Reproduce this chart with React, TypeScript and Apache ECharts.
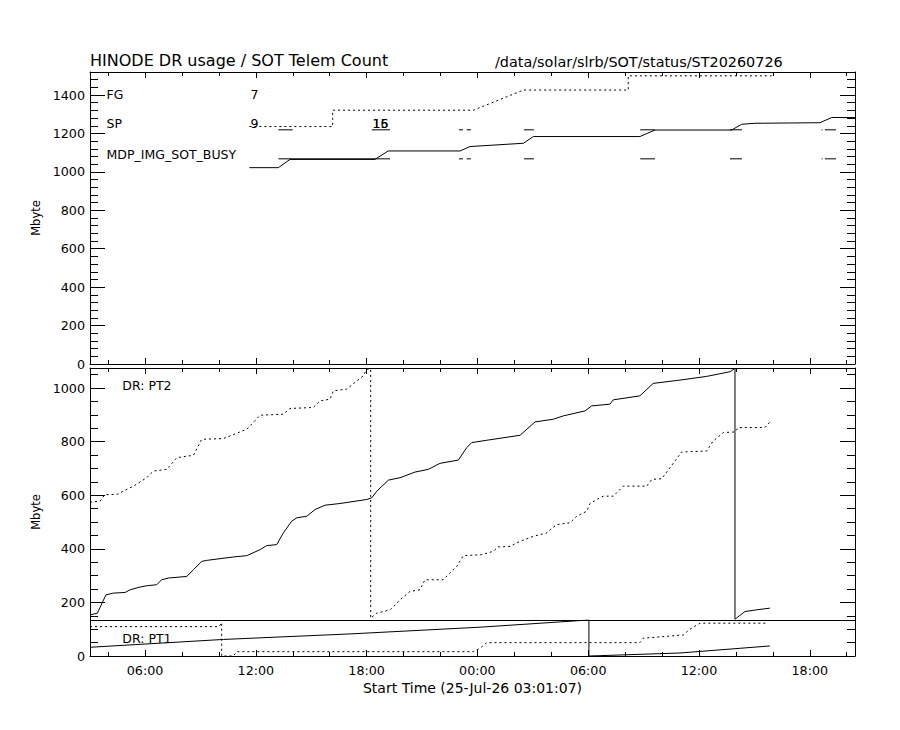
import React, { useEffect, useRef } from 'react';
import * as echarts from 'echarts';

// ---- X axis (hours since 25-Jul-26 00:00) ----
const X_MIN = 3.0186; // 03:01:07
const X_MAX = 44.45;
const X_MAJOR_TICKS = [6, 12, 18, 24, 30, 36, 42];
const X_TICK_LABELS = ['06:00', '12:00', '18:00', '00:00', '06:00', '12:00', '18:00'];
const X_MINOR_TICKS = [4, 8, 10, 14, 16, 20, 22, 26, 28, 32, 34, 38, 40, 44];

// ---- Y axes ----
const TOP_Y_MAX = 1520;
const TOP_Y_TICKS = [0, 200, 400, 600, 800, 1000, 1200, 1400];
const TOP_Y_MINOR_STEP = 40;
const BOT_Y_MAX = 1075;
const BOT_Y_TICKS = [0, 200, 400, 600, 800, 1000];
const BOT_Y_MINOR_STEP = 50;
const Y_MAJOR_STEP = 200;

// ---- Top panel: SOT telemetry count ----
const TOP_SOLID = [
  [11.65, 1022], [13.22, 1022], [13.85, 1065], [18.45, 1065], [19.17, 1109], [23.06, 1109],
  [23.6, 1132], [26.49, 1149], [27.03, 1184], [32.8, 1184], [33.62, 1218], [37.77, 1218],
  [38.31, 1248], [39.03, 1253], [42.55, 1256], [43.19, 1283], [44.45, 1283],
];
const TOP_DOTTED = [
  [11.65, 1236], [16.16, 1236], [16.16, 1321], [23.78, 1321], [26.49, 1426], [32.17, 1426],
  [32.17, 1500], [39.94, 1500],
];
const SP_MARK_LEVEL = 1219;
const SP_MARKS = [
  [13.22, 14.0], [18.28, 19.27], [23.0, 23.22], [23.42, 23.65], [26.52, 27.06],
  [32.82, 33.62], [37.68, 38.33], [42.64, 42.69], [42.82, 43.42],
];
const BUSY_MARK_LEVEL = 1068;
const BUSY_MARKS = [
  [13.22, 19.27], [23.0, 23.22], [23.42, 23.65], [26.52, 27.06],
  [32.82, 33.62], [37.68, 38.33], [42.64, 42.69], [42.82, 43.42],
];
const TOP_TEXTS = [
  { name: 'FG', value: [3.89, 1402] },
  { name: 'SP', value: [3.89, 1251] },
  { name: 'MDP_IMG_SOT_BUSY', value: [3.89, 1089] },
  { name: '7', value: [11.69, 1403] },
  { name: '9', value: [11.69, 1253] },
  { name: '16', value: [18.29, 1253] },
  { name: '15', value: [18.29, 1253] },
];

// ---- Bottom panel: DR usage ----
const PT2_SOLID = [
  [3.02, 153.5], [3.42, 159.9], [3.71, 203.4], [3.89, 228.4], [4.28, 234.8], [4.92, 237.1],
  [5.19, 247.2], [5.73, 257.3], [6.09, 262.2], [6.63, 265.9], [6.9, 284.6], [7.26, 291.0],
  [8.26, 297.0], [8.62, 322.1], [9.07, 353.2], [9.34, 356.9], [10.78, 369.6], [11.51, 374.5],
  [12.23, 397.0], [12.59, 412.0], [13.13, 415.7], [13.49, 459.5], [13.94, 503.0], [14.22, 515.7],
  [14.76, 521.7], [15.21, 546.8], [15.75, 562.9], [16.56, 569.2], [18.01, 584.2], [18.28, 590.6],
  [18.55, 615.3], [19.18, 656.5], [19.81, 665.5], [20.62, 686.5], [21.34, 696.6], [21.97, 719.0],
  [22.97, 731.4], [23.42, 777.8], [23.69, 796.6], [24.5, 805.2], [26.31, 823.9], [27.12, 873.7],
  [28.11, 883.8], [28.65, 896.2], [29.83, 914.9], [30.19, 933.6], [31.18, 940.0], [31.36, 956.1],
  [32.8, 971.1], [33.52, 1017.5], [34.97, 1029.9], [36.42, 1043.7], [37.68, 1061.0], [37.95, 1074.0],
  [37.95, 137.4], [38.49, 165.9], [39.12, 172.3], [39.84, 178.6],
];
const PT2_DOTTED = [
  [3.02, 574.1], [3.56, 577.9], [3.83, 603.0], [4.47, 603.0], [5.37, 634.0], [6.09, 665.5],
  [6.45, 690.2], [7.18, 696.6], [7.72, 740.4], [8.62, 749.0], [9.07, 808.9], [10.24, 811.5],
  [11.51, 846.4], [12.23, 898.8], [13.49, 902.5], [13.85, 923.9], [15.11, 927.6], [15.48, 952.4],
  [16.02, 958.7], [16.2, 989.8], [16.92, 996.2], [17.82, 1046.0], [18.01, 1071.1], [18.22, 1071.1],
  [18.22, 141.2], [18.55, 159.9], [19.27, 172.3], [19.81, 209.7], [20.35, 240.8], [20.89, 247.2],
  [21.16, 284.6], [22.15, 284.6], [22.88, 334.4], [23.24, 374.5], [24.23, 378.2], [24.86, 390.6],
  [25.13, 407.1], [25.77, 409.3], [26.31, 428.1], [27.03, 446.8], [27.75, 459.5], [28.29, 490.6],
  [29.01, 497.0], [29.38, 521.7], [29.92, 540.4], [30.1, 569.2], [30.64, 590.6], [30.82, 596.6],
  [31.36, 596.6], [31.9, 634.0], [33.17, 634.0], [33.44, 659.1], [33.98, 661.7], [34.43, 702.9],
  [35.06, 761.4], [36.42, 765.1], [36.77, 802.5], [37.32, 834.0], [37.95, 836.3], [38.13, 852.7],
  [39.57, 852.7], [39.84, 873.7],
];
const PT1_SOLID = [
  [3.02, 32.6], [10.24, 61.8], [17.1, 82.4], [24.14, 107.5], [29.55, 132.2], [30.04, 133.7],
  [30.04, 0], [30.55, 1.1], [34.97, 11.2], [39.84, 37.5],
];
const PT1_DOTTED = [
  [3.02, 109.7], [10.01, 109.7], [10.15, 124.7], [10.15, 0], [10.78, 0], [10.97, 16.1],
  [23.78, 16.1], [24.14, 28.8], [24.5, 49.8], [32.8, 49.8], [32.98, 66.3], [35.15, 78.6],
  [35.51, 100.0], [36.05, 122.5], [39.67, 122.5],
];
const PT_SPLIT = 135;
const BOT_TEXTS = [
  { name: 'DR: PT2', value: [4.74, 1011] },
  { name: 'DR: PT1', value: [4.74, 67] },
];

const TITLE_LEFT = 'HINODE DR usage / SOT Telem Count';
const TITLE_RIGHT = '/data/solar/slrb/SOT/status/ST20260726';
const X_NAME = 'Start Time (25-Jul-26 03:01:07)';
const Y_NAME = 'Mbyte';

const FONT = 'DejaVu Sans';
const BLACK = '#000';

function segData(segs: number[][], level: number) {
  const out: any[] = [];
  segs.forEach(([a, b]) => {
    out.push([a, level], [b, level], [b, '-']);
  });
  return out;
}

function makeXAxes(gridIndex: number, withLabels: boolean) {
  const base = (position: string, major: boolean) => ({
    type: 'value',
    gridIndex,
    position,
    min: X_MIN,
    max: X_MAX,
    splitLine: { show: false },
    minorTick: { show: false },
    axisLine: { show: major, onZero: false, lineStyle: { color: BLACK, width: 1 } },
    axisTick: {
      show: true,
      inside: true,
      length: major ? 6 : 4,
      customValues: major ? X_MAJOR_TICKS : X_MINOR_TICKS,
      lineStyle: { color: BLACK, width: 1 },
    },
    axisLabel: { show: false, customValues: major ? X_MAJOR_TICKS : X_MINOR_TICKS },
  });
  const bottomMajor: any = base('bottom', true);
  if (withLabels) {
    bottomMajor.axisLabel = {
      show: true,
      customValues: X_MAJOR_TICKS,
      formatter: (v: number) => {
        const i = X_MAJOR_TICKS.findIndex((t) => Math.abs(t - v) < 1e-6);
        return i >= 0 ? X_TICK_LABELS[i] : '';
      },
      margin: 8,
      color: BLACK,
      fontFamily: FONT,
      fontSize: 12.7,
    };
    bottomMajor.name = X_NAME;
    bottomMajor.nameLocation = 'middle';
    bottomMajor.nameGap = 25;
    bottomMajor.nameTextStyle = { color: BLACK, fontFamily: FONT, fontSize: 14 };
  }
  return [bottomMajor, base('bottom', false), base('top', true), base('top', false)];
}

function makeYAxes(gridIndex: number, max: number, majors: number[], minorStep: number) {
  const base = (position: string, major: boolean) => ({
    type: 'value',
    gridIndex,
    position,
    min: 0,
    max,
    interval: major ? Y_MAJOR_STEP : minorStep,
    splitLine: { show: false },
    minorTick: { show: false },
    axisLine: { show: major, onZero: false, lineStyle: { color: BLACK, width: 1 } },
    axisTick: {
      show: true,
      inside: true,
      length: major ? 15 : 8,
      lineStyle: { color: BLACK, width: 1 },
    },
    axisLabel: { show: false },
  });
  const leftMajor: any = base('left', true);
  leftMajor.axisLabel = {
    show: true,
    showMaxLabel: false,
    formatter: (v: number) => (majors.indexOf(v) >= 0 ? String(v) : ''),
    margin: 5,
    color: BLACK,
    fontFamily: FONT,
    fontSize: 12.7,
  };
  leftMajor.name = Y_NAME;
  leftMajor.nameLocation = 'middle';
  leftMajor.nameRotate = 90;
  leftMajor.nameGap = 41;
  leftMajor.nameTextStyle = { color: BLACK, fontFamily: FONT, fontSize: 11.5 };
  return [leftMajor, base('left', false), base('right', true), base('right', false)];
}

function lineSeries(data: any[], xAxisIndex: number, yAxisIndex: number, dotted: boolean, extra: any = {}) {
  return {
    type: 'line',
    data,
    xAxisIndex,
    yAxisIndex,
    symbol: 'none',
    showSymbol: false,
    connectNulls: false,
    silent: true,
    lineStyle: { color: BLACK, width: 1, type: dotted ? [2, 3] : 'solid' },
    ...extra,
  };
}

function textSeries(data: any[], xAxisIndex: number, yAxisIndex: number, fontSize: number) {
  return {
    type: 'scatter',
    data,
    xAxisIndex,
    yAxisIndex,
    symbol: 'circle',
    symbolSize: 1,
    silent: true,
    itemStyle: { color: '#fff', opacity: 1 },
    label: {
      show: true,
      position: 'right',
      distance: 0,
      formatter: '{b}',
      color: BLACK,
      opacity: 1,
      textBorderWidth: 0,
      textShadowBlur: 0,
      fontFamily: FONT,
      fontSize,
      align: 'left',
      verticalAlign: 'middle',
    },
    labelLayout: { hideOverlap: false },
  };
}

export default function App() {
  const ref = useRef<HTMLDivElement>(null);
  useEffect(() => {
    document.body.style.margin = '0';
    document.body.style.background = '#fff';
    if (!ref.current) return;
    const chart = echarts.init(ref.current, undefined, { renderer: 'svg' });
    const option: any = {
      animation: false,
      backgroundColor: '#fff',
      textStyle: { fontFamily: FONT, color: BLACK },
      title: [
        {
          text: TITLE_LEFT,
          left: 90,
          top: 52,
          padding: 0,
          textStyle: { fontFamily: FONT, fontSize: 16, fontWeight: 'normal', color: BLACK, lineHeight: 16 },
        },
        {
          text: TITLE_RIGHT,
          left: 495,
          top: 54,
          padding: 0,
          textStyle: { fontFamily: FONT, fontSize: 14.4, fontWeight: 'normal', color: BLACK, lineHeight: 15 },
        },
      ],
      grid: [
        { left: 90, top: 72, width: 765, height: 292, containLabel: false },
        { left: 90, top: 368, width: 765, height: 288, containLabel: false },
      ],
      xAxis: [...makeXAxes(0, false), ...makeXAxes(1, true)],
      yAxis: [
        ...makeYAxes(0, TOP_Y_MAX, TOP_Y_TICKS, TOP_Y_MINOR_STEP),
        ...makeYAxes(1, BOT_Y_MAX, BOT_Y_TICKS, BOT_Y_MINOR_STEP),
      ],
      series: [
        lineSeries(TOP_SOLID, 0, 0, false),
        lineSeries(TOP_DOTTED, 0, 0, true),
        lineSeries(segData(SP_MARKS, SP_MARK_LEVEL), 0, 0, false),
        lineSeries(segData(BUSY_MARKS, BUSY_MARK_LEVEL), 0, 0, false),
        textSeries(TOP_TEXTS, 0, 0, 12.5),
        lineSeries(PT2_SOLID, 4, 4, false),
        lineSeries(PT2_DOTTED, 4, 4, true),
        lineSeries(PT1_SOLID, 4, 4, false, {
          markLine: {
            silent: true,
            symbol: ['none', 'none'],
            label: { show: false },
            lineStyle: { color: BLACK, type: 'solid', width: 1 },
            data: [{ yAxis: PT_SPLIT }],
          },
        }),
        lineSeries(PT1_DOTTED, 4, 4, true),
        textSeries(BOT_TEXTS, 4, 4, 12.5),
      ],
    };
    chart.setOption(option);
    return () => chart.dispose();
  }, []);
  return <div ref={ref} style={{ width: 900, height: 730 }} />;
}
